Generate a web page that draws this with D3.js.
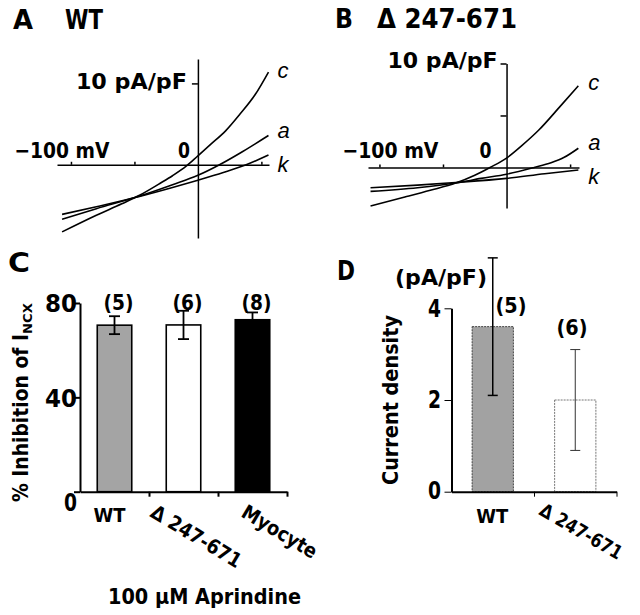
<!DOCTYPE html>
<html><head><meta charset="utf-8">
<script src="https://cdn.jsdelivr.net/npm/d3@7"></script>
<style>html,body{margin:0;padding:0;background:#fff}svg{display:block}</style>
</head><body>
<svg id="chart" width="640" height="615"></svg>
<script>
// ---------- DATA ----------
// Panel A (WT) I-V curves: [membrane potential mV, current density pA/pF]
const wtCurveC = [[-107,-8.25],[-80,-6.2],[-60,-4.8],[-46,-3.75],[-30,-2.3],[-20,-1.35],[-9,-0.15],[0,1.1],[10,2.5],[22,4.2],[33,6.2],[45,8.6],[55.6,11.4]];
const wtCurveA = [[-107,-6.7],[-80,-5.4],[-46,-3.85],[-20,-2.45],[0,-1.3],[17,0],[35,1.6],[55.6,3.6]];
const wtCurveK = [[-107,-6.1],[-80,-5.15],[-46,-3.9],[-20,-2.8],[0,-1.9],[20,-0.95],[38,0],[55.6,1.2]];
// Panel B (Δ247-671) I-V curves
const delCurveC = [[-107,-3.7],[-80,-2.85],[-60,-2.2],[-40,-1.5],[-25,-0.75],[-13,0],[0,0.9],[12,2.1],[25,3.55],[42,5.85],[56.5,7.85]];
const delCurveA = [[-107,-2.3],[-70,-1.95],[-40,-1.5],[-20,-1.05],[0,-0.65],[21.7,0],[35,0.45],[45,0.95],[56.5,1.85]];
const delCurveK = [[-107,-1.95],[-70,-1.7],[-40,-1.45],[0,-1.05],[30,-0.6],[56.5,-0.25]];
const ivXTicks = [-100, -50, 50];
const ivCurveNames = ["c", "a", "k"];
// Panel C
const inhibCategories = ["WT", "Δ 247-671", "Myocyte"];
const inhibValues = [70.6, 70.7, 72.9];
const inhibErrors = [3.8, 6.0, 3.1];
const inhibN = ["(5)", "(6)", "(8)"];
const inhibTicks = [0, 40, 80];
// Panel D
const densityCategories = ["WT", "Δ 247-671"];
const densityValues = [3.6, 2.0];
const densityErrors = [1.5, 1.1];
const densityN = ["(5)", "(6)"];
const densityTicks = [0, 2, 4];

// ---------- HELPERS ----------
const svg = d3.select("#chart");
const FONT = "'DejaVu Sans', 'Liberation Sans', Arial, sans-serif";
const ITAL = "'Liberation Sans', Arial, sans-serif";
function txt(parent, s, x, y, o = {}) {
  const t = parent.append("text")
    .attr("x", x).attr("y", y)
    .attr("font-family", o.family || FONT)
    .attr("font-size", o.size || 20)
    .attr("font-weight", o.weight || "bold")
    .attr("font-style", o.style || "normal")
    .attr("text-anchor", o.anchor || "start")
    .attr("fill", "#000")
    .text(s);
  if (o.len) t.attr("textLength", o.len).attr("lengthAdjust", "spacingAndGlyphs");
  if (o.rotate !== undefined) t.attr("transform", `rotate(${o.rotate},${x},${y})`);
  return t;
}
function styleAxis(g, w) {
  g.selectAll("path,line").attr("stroke", "#000").attr("stroke-width", w);
}

// ---------- PANEL A / B scales ----------
const xA = d3.scaleLinear().domain([-111, 56]).range([57, 269]);
const yA = d3.scaleLinear().domain([-9, 13]).range([238, 59]);
const xB = d3.scaleLinear().domain([-109, 57]).range([368, 579]);
const yB = d3.scaleLinear().domain([-3.9, 10]).range([208, 63.5]);

function drawIV(x, y, curves, yTicks) {
  const g = svg.append("g");
  const ha = g.append("g").attr("transform", `translate(0,${y(0)})`)
    .call(d3.axisTop(x).tickValues(ivXTicks).tickSize(3).tickSizeOuter(0).tickFormat(""));
  styleAxis(ha, 1.5);
  const va = g.append("g").attr("transform", `translate(${x(0)},0)`)
    .call(d3.axisLeft(y).tickValues(yTicks).tickSize(6).tickSizeOuter(0).tickFormat(""));
  styleAxis(va, 1.5);
  const line = d3.line().x(d => x(d[0])).y(d => y(d[1])).curve(d3.curveMonotoneX);
  curves.forEach(c => {
    g.append("path").datum(c).attr("d", line)
      .attr("fill", "none").attr("stroke", "#000").attr("stroke-width", 1.6);
  });
  return g;
}

const gA = drawIV(xA, yA, [wtCurveC, wtCurveA, wtCurveK], [10]);
txt(svg, "A", 13, 29, {size: 27, len: 20});
txt(svg, "WT", 65, 29, {size: 27, len: 38});
txt(gA, "10 pA/pF", xA(0) - 11, yA(10) + 6, {size: 21, anchor: "end", len: 111});
txt(gA, "−100 mV", xA(-100) - 9, yA(0) - 7, {size: 22, anchor: "middle", len: 95});
txt(gA, "0", xA(0) - 14, yA(0) - 7, {size: 22, anchor: "middle", len: 12});
const endA = [wtCurveC, wtCurveA, wtCurveK].map(c => c[c.length - 1]);
txt(gA, ivCurveNames[0], xA(endA[0][0]) + 9, yA(endA[0][1]) + 6, {size: 22, weight: "normal", style: "italic", family: ITAL});
txt(gA, ivCurveNames[1], xA(endA[1][0]) + 9, yA(endA[1][1]) + 3, {size: 22, weight: "normal", style: "italic", family: ITAL});
txt(gA, ivCurveNames[2], xA(endA[2][0]) + 9, yA(endA[2][1]) + 17, {size: 22, weight: "normal", style: "italic", family: ITAL});

const gB = drawIV(xB, yB, [delCurveC, delCurveA, delCurveK], [5, 10]);
txt(svg, "B", 335, 28, {size: 27, len: 18});
txt(svg, "Δ 247-671", 377, 28, {size: 27, len: 140});
txt(gB, "10 pA/pF", xB(0) - 9, yB(10) + 4, {size: 21, anchor: "end", len: 110});
txt(gB, "−100 mV", xB(-100) + 11, yB(0) - 9, {size: 22, anchor: "middle", len: 96});
txt(gB, "0", xB(0) - 21, yB(0) - 9, {size: 22, anchor: "middle", len: 12});
const endB = [delCurveC, delCurveA, delCurveK].map(c => c[c.length - 1]);
txt(gB, ivCurveNames[0], xB(endB[0][0]) + 10, yB(endB[0][1]) + 4, {size: 22, weight: "normal", style: "italic", family: ITAL});
txt(gB, ivCurveNames[1], xB(endB[1][0]) + 10, yB(endB[1][1]) + 2, {size: 22, weight: "normal", style: "italic", family: ITAL});
txt(gB, ivCurveNames[2], xB(endB[2][0]) + 10, yB(endB[2][1]) + 14, {size: 22, weight: "normal", style: "italic", family: ITAL});

// ---------- PANEL C ----------
const xC = d3.scaleBand().domain(inhibCategories).range([80, 287]).paddingInner(0.5).paddingOuter(0.25);
const yC = d3.scaleLinear().domain([0, 80]).range([491.7, 303]);
const gC = svg.append("g");
txt(svg, "C", 8, 272, {size: 27, len: 22});
const cFills = ["#a4a4a4", "#ffffff", "#000000"];
gC.selectAll("rect.bar").data(inhibValues).join("rect").attr("class", "bar")
  .attr("x", (d, i) => xC(inhibCategories[i]))
  .attr("width", xC.bandwidth())
  .attr("y", d => yC(d))
  .attr("height", d => yC(0) - yC(d))
  .attr("fill", (d, i) => cFills[i])
  .attr("stroke", "#000").attr("stroke-width", 1.6);
inhibValues.forEach((v, i) => {
  const cx = xC(inhibCategories[i]) + xC.bandwidth() / 2;
  const e = inhibErrors[i];
  gC.append("line").attr("x1", cx).attr("x2", cx).attr("y1", yC(v + e)).attr("y2", yC(v - e))
    .attr("stroke", "#000").attr("stroke-width", 1.8);
  [v + e, v - e].forEach(t => gC.append("line").attr("x1", cx - 5.5).attr("x2", cx + 5.5)
    .attr("y1", yC(t)).attr("y2", yC(t)).attr("stroke", "#000").attr("stroke-width", 1.8));
  txt(gC, inhibN[i], cx + 4, 310, {size: 22, anchor: "middle", len: 30});
});
const yCa = gC.append("g").attr("transform", "translate(80,0)")
  .call(d3.axisLeft(yC).tickValues(inhibTicks).tickSize(6).tickSizeOuter(0).tickFormat(""));
styleAxis(yCa, 2);
const bandEdgeC = d3.scaleLinear().domain([0, inhibCategories.length]).range(xC.range());
const xCa = gC.append("g").attr("transform", `translate(0,${yC(0)})`)
  .call(d3.axisBottom(bandEdgeC).tickValues([1, 2, 3]).tickSize(5).tickSizeOuter(0).tickFormat(""));
styleAxis(xCa, 2);
txt(gC, "80", 77, yC(80) + 9, {size: 24, anchor: "end", len: 32});
txt(gC, "40", 77, yC(40) + 10, {size: 24, anchor: "end", len: 32});
txt(gC, "0", 77, yC(0) + 19, {size: 24, anchor: "end", len: 13});
txt(gC, "WT", xC("WT") + xC.bandwidth() / 2 - 5, 522, {size: 20, anchor: "middle", len: 32});
txt(gC, "Δ 247-671", 149, 516, {size: 20, rotate: 31, len: 102});
txt(gC, "Myocyte", 240, 516, {size: 20, rotate: 31, len: 84});
txt(gC, "% Inhibition of I", 28, 418, {size: 22, anchor: "middle", rotate: -90, len: 168});
txt(gC, "NCX", 32, 334, {size: 13, anchor: "start", rotate: -90, len: 31});
txt(gC, "100 μM Aprindine", 108, 604, {size: 22, len: 193});

// ---------- PANEL D ----------
const xD = d3.scaleBand().domain(densityCategories).range([451.5, 616.5]).paddingInner(0.5).paddingOuter(0.25);
const yD = d3.scaleLinear().domain([0, 4]).range([491.7, 308.3]);
const gD = svg.append("g");
txt(svg, "D", 337, 280, {size: 27, len: 18});
gD.selectAll("rect.bar").data(densityValues).join("rect").attr("class", "bar")
  .attr("x", (d, i) => xD(densityCategories[i]))
  .attr("width", xD.bandwidth())
  .attr("y", d => yD(d))
  .attr("height", d => yD(0) - yD(d))
  .attr("fill", (d, i) => i === 0 ? "#a2a2a2" : "#ffffff")
  .attr("stroke", (d, i) => i === 0 ? "#444" : "#777")
  .attr("stroke-width", 1).attr("stroke-dasharray", "2,1");
densityValues.forEach((v, i) => {
  const cx = xD(densityCategories[i]) + xD.bandwidth() / 2;
  const e = densityErrors[i];
  const col = i === 0 ? "#000" : "#333";
  gD.append("line").attr("x1", cx).attr("x2", cx).attr("y1", yD(v + e)).attr("y2", yD(v - e))
    .attr("stroke", col).attr("stroke-width", i === 0 ? 1.5 : 1);
  [v + e, v - e].forEach(t => gD.append("line").attr("x1", cx - 5).attr("x2", cx + 5)
    .attr("y1", yD(t)).attr("y2", yD(t)).attr("stroke", col).attr("stroke-width", i === 0 ? 1.5 : 1));
});
txt(gD, densityN[0], 511, 313, {size: 22, anchor: "middle", len: 31});
txt(gD, densityN[1], 572, 335, {size: 22, anchor: "middle", len: 31});
const yDa = gD.append("g").attr("transform", "translate(451.5,0)")
  .call(d3.axisLeft(yD).tickValues(densityTicks).tickSize(7).tickSizeOuter(0).tickFormat(""));
styleAxis(yDa, 2);
yDa.selectAll(".tick line").attr("stroke-width", 1);
const bandEdgeD = d3.scaleLinear().domain([0, densityCategories.length]).range(xD.range());
const xDa = gD.append("g").attr("transform", `translate(0,${yD(0)})`)
  .call(d3.axisBottom(bandEdgeD).tickValues([1, 2]).tickSize(5).tickSizeOuter(0).tickFormat(""));
styleAxis(xDa, 2);
xDa.selectAll(".tick line").attr("stroke-width", 1);
txt(gD, "4", 441, yD(4) + 9, {size: 24, anchor: "end", len: 13});
txt(gD, "2", 441, yD(2) + 8, {size: 24, anchor: "end", len: 13});
txt(gD, "0", 441, yD(0) + 7, {size: 24, anchor: "end", len: 13});
txt(gD, "(pA/pF)", 395, 285, {size: 21, len: 92});
txt(gD, "Current density", 398, 400, {size: 22, anchor: "middle", rotate: -90, len: 170});
txt(gD, "WT", xD("WT") + xD.bandwidth() / 2 - 0.5, 523, {size: 20, anchor: "middle", len: 32});
txt(gD, "Δ 247-671", 538, 514, {size: 19, rotate: 30, len: 92});
</script>
</body></html>
